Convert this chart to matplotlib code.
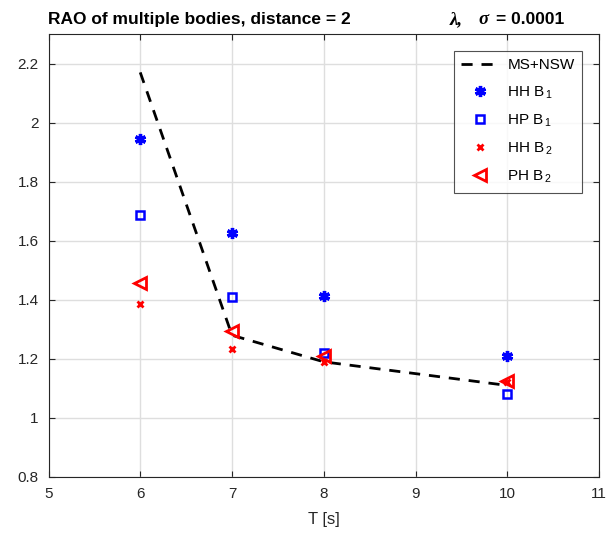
import numpy as np
import matplotlib.pyplot as plt

plt.rcParams["font.family"] = ["Liberation Sans", "DejaVu Sans"]
plt.rcParams["mathtext.fontset"] = "custom"
plt.rcParams["mathtext.rm"] = "Liberation Sans"

# periods [s]
T = [6, 7, 8, 10]

# RAO values
ms_nsw = [2.17, 1.28, 1.19, 1.11]
hh_b1 = [1.945, 1.625, 1.413, 1.209]
hp_b1 = [1.688, 1.408, 1.22, 1.08]
hh_b2 = [1.385, 1.233, 1.19, 1.12]
ph_b2 = [1.458, 1.295, 1.21, 1.125]

fig = plt.figure(figsize=(6.1, 5.35), dpi=100)
ax = fig.add_axes([48.5 / 610, 1 - 477 / 535, 550.5 / 610, 443 / 535])

ax.plot(T, ms_nsw, "k--", lw=2, dashes=(4, 3.2), label="MS+NSW")
ax.plot(T, hh_b1, ls="none", marker=(6, 2, 0), color="blue", ms=8, mew=2.4,
        label=r"HH B$_{\,1}$")
ax.plot(T, hp_b1, ls="none", marker="s", mfc="none", mec="blue", ms=6, mew=1.8,
        label=r"HP B$_{\,1}$")
ax.plot(T, hh_b2, ls="none", marker="x", color="red", ms=5, mew=2,
        label=r"HH B$_{\,2}$")
ax.plot(T, ph_b2, ls="none", marker="<", mfc="none", mec="red", ms=9, mew=2,
        label=r"PH B$_{\,2}$")

ax.set_xlim(5, 11)
ax.set_ylim(0.8, 2.3)
ax.set_xticks(range(5, 12))
ax.set_yticks(np.arange(0.8, 2.21, 0.2))
ax.set_yticklabels(["0.8", "1", "1.2", "1.4", "1.6", "1.8", "2", "2.2"])
ax.grid(True, color="#dedede", lw=1)
ax.set_axisbelow(True)
ax.tick_params(direction="in", labelsize=11, length=4, top=True, right=True,
               colors="#262626", pad=7)
for s in ax.spines.values():
    s.set_color("#262626")
ax.set_xlabel("T [s]", fontsize=12, color="#262626", labelpad=8)

# title: left and right parts
ty = 1 - 24 / 535
fig.text(48 / 610, ty, "RAO of multiple bodies, distance = 2", fontsize=12.5,
         fontweight="bold", va="baseline")
fig.text(450 / 610, ty, "λ,", fontsize=13.5, fontweight="bold", fontstyle="italic",
         family="Liberation Serif", va="baseline")
fig.text(478 / 610, ty, "σ", fontsize=13.5, fontweight="bold", fontstyle="italic",
         family="Liberation Serif", va="baseline")
fig.text(496 / 610, ty, "= 0.0001", fontsize=12.5, fontweight="bold",
         va="baseline")

leg = ax.legend(loc="upper right", fontsize=11, frameon=True, fancybox=False,
                edgecolor="#262626", handlelength=2.4, labelspacing=0.75,
                borderaxespad=1.1, borderpad=0.5, handletextpad=0.6)
leg.get_frame().set_linewidth(0.8)

fig.savefig("out.png", dpi=100)
